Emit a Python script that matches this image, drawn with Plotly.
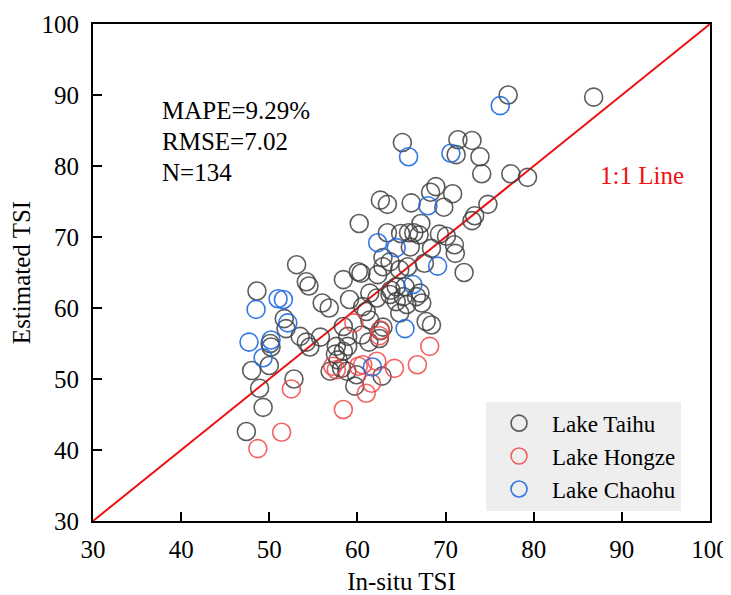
import plotly.graph_objects as go

# ---- data ----
taihu_x = [86.8, 77.1, 65.1, 71.4, 73.0, 71.2, 73.9, 74.1, 77.4, 79.3,
           68.9, 68.3, 70.8, 69.8, 74.8, 73.3, 73.0,
           62.6, 63.4, 66.1, 60.2, 67.2,
           63.4, 64.9, 65.8, 66.4, 67.0, 69.3, 70.1, 71.0, 71.1, 68.4, 72.1,
           67.6, 66.0, 62.9, 63.7, 62.9, 64.8, 65.7, 62.3,
           60.1, 60.4, 58.4, 53.1, 54.2, 54.5,
           64.4, 65.4, 67.1, 63.7, 64.4, 65.2, 65.6, 66.7, 67.3,
           61.4, 62.2, 60.6, 61.0, 59.1, 56.0, 56.8,
           48.6, 51.7, 51.9, 53.5, 54.2, 55.8, 50.1, 50.2,
           58.4, 58.9, 57.6, 58.4, 58.9, 61.4, 62.6, 62.9, 64.8, 67.8, 68.4,
           48.0, 48.9, 49.3, 47.4, 50.0, 52.8,
           56.9, 57.8, 58.2, 59.7, 62.8, 61.3, 62.5, 63.8, 60.5, 57.5,
           59.9, 54.6, 58.8]
taihu_y = [89.7, 90.0, 83.3, 83.7, 83.6, 81.6, 81.3, 78.9, 78.9, 78.4,
           77.1, 76.3, 76.1, 74.2, 74.6, 73.0, 72.3,
           75.2, 74.6, 74.8, 71.9, 71.9,
           70.6, 70.5, 70.6, 70.6, 70.3, 70.4, 70.1, 68.9, 67.7, 68.4, 65.0,
           66.3, 68.6, 67.1, 66.5, 65.8, 65.4, 65.8, 64.7,
           65.1, 64.9, 64.0, 66.1, 63.7, 63.1,
           63.0, 63.0, 62.1, 61.9, 60.9, 61.6, 60.5, 61.6, 60.7,
           62.1, 61.4, 60.2, 59.5, 61.2, 60.7, 60.0,
           62.4, 58.5, 57.1, 56.0, 55.2, 55.9, 55.0, 54.5,
           57.4, 56.0, 54.6, 53.9, 54.6, 58.3, 56.8, 57.3, 59.3, 58.1, 57.6,
           51.2, 48.7, 46.0, 42.6, 51.9, 50.0,
           51.1, 52.7, 51.5, 49.0, 50.4, 55.2, 55.7, 62.5, 56.2, 53.5,
           50.6, 54.5, 51.1]

hongze_x = [48.7, 51.4, 52.5, 58.4, 59.6, 57.2, 57.6, 60.1, 61.0, 61.6,
            62.2, 62.5, 62.6, 64.2, 66.8, 68.2, 60.6]
hongze_y = [40.2, 42.5, 48.6, 45.7, 57.9, 51.8, 51.3, 51.8, 48.0, 49.4,
            52.5, 56.1, 56.9, 51.5, 52.0, 54.6, 52.0]

chaohu_x = [76.2, 65.8, 70.6, 68.0, 62.3, 64.4, 69.1, 66.3, 65.4, 61.7,
            48.5, 47.7, 49.3, 50.2, 51.0, 51.6, 52.1]
chaohu_y = [88.5, 81.3, 81.8, 74.4, 69.2, 68.5, 65.9, 63.3, 57.1, 51.7,
            59.8, 55.2, 53.0, 55.5, 61.3, 61.2, 57.9]

one_to_one = [30, 100]
x_ticks = [30, 40, 50, 60, 70, 80, 90, 100]
y_ticks = [30, 40, 50, 60, 70, 80, 90, 100]
stats_lines = ["MAPE=9.29%", "RMSE=7.02", "N=134"]
stats_y = [87.8, 83.5, 79.1]

FONT = "Liberation Serif, Times New Roman, serif"

fig = go.Figure()

fig.add_trace(go.Scatter(x=one_to_one, y=one_to_one, mode="lines",
                         line=dict(color="#ee1111", width=2),
                         showlegend=False, hoverinfo="skip"))

def add_series(xs, ys, name, color):
    fig.add_trace(go.Scatter(
        x=xs, y=ys, mode="markers", name=name,
        marker=dict(symbol="circle-open", size=18,
                    color=color, line=dict(color=color, width=1.6))))

add_series(taihu_x, taihu_y, "Lake Taihu", "rgba(65,65,65,0.85)")
add_series(hongze_x, hongze_y, "Lake Hongze", "rgba(240,70,70,0.85)")
add_series(chaohu_x, chaohu_y, "Lake Chaohu", "rgba(30,105,225,0.9)")

for txt, yy in zip(stats_lines, stats_y):
    fig.add_annotation(x=37.6, y=yy, text=txt, showarrow=False,
                       xanchor="left", yanchor="middle",
                       font=dict(family=FONT, size=25, color="black"))

fig.add_annotation(x=92.3, y=78.7, text="1:1 Line", showarrow=False,
                   xanchor="center", yanchor="middle",
                   font=dict(family=FONT, size=25, color="#ee1111"))

axis_common = dict(
    showgrid=False, zeroline=False, showline=True, linecolor="black",
    linewidth=2, mirror=True, ticks="inside", ticklen=9, tickwidth=2,
    tickcolor="black", tickfont=dict(family=FONT, size=25, color="black"),
    automargin=False,
)

fig.update_xaxes(range=[30, 100], tickvals=x_ticks,
                 title=dict(text="In-situ TSI", standoff=14,
                            font=dict(family=FONT, size=25, color="black")),
                 ticklabelstandoff=5, **axis_common)
fig.update_yaxes(range=[30, 100], tickvals=y_ticks,
                 title=dict(text="Estimated TSI", standoff=8,
                            font=dict(family=FONT, size=25, color="black")),
                 ticklabelstandoff=7, **axis_common)

# page body adds an 8px offset, so the figure is sized 723x587
fig.update_layout(
    width=723, height=587,
    margin=dict(l=85, r=21, t=16, b=74),
    paper_bgcolor="white", plot_bgcolor="white",
    font=dict(family=FONT, color="black"),
    legend=dict(x=0.637, y=0.24, xanchor="left", yanchor="top",
                bgcolor="#eeeeee", borderwidth=0,
                font=dict(family=FONT, size=23, color="black"),
                itemwidth=56),
)

fig.write_html("out.html")
